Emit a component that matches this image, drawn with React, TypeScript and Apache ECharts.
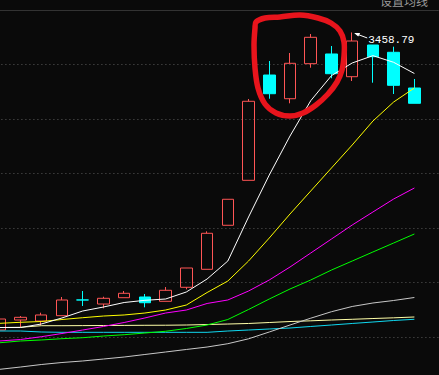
import React, { useEffect, useRef } from "react";
import * as echarts from "echarts";

// 22 slots: 21 candles + one empty slot on the right
const categories: string[] = [
  "D01", "D02", "D03", "D04", "D05", "D06", "D07", "D08", "D09", "D10", "D11",
  "D12", "D13", "D14", "D15", "D16", "D17", "D18", "D19", "D20", "D21", "D22",
];

// [open, close, low, high]
const candles: number[][] = [
  [2912.8, 2933.0, 2912.8, 2933.0],
  [2931.2, 2936.1, 2918.3, 2938.5],
  [2929.3, 2940.4, 2922.0, 2944.6],
  [2939.1, 2967.9, 2939.1, 2973.4],
  [2968.0, 2967.9, 2956.9, 2984.4],
  [2960.5, 2971.0, 2952.6, 2973.9],
  [2972.1, 2980.2, 2972.1, 2984.4],
  [2973.4, 2962.9, 2954.5, 2978.9],
  [2965.5, 2985.7, 2965.5, 2991.7],
  [2991.2, 3026.6, 2987.5, 3026.6],
  [3024.2, 3090.3, 3024.2, 3093.9],
  [3105.0, 3152.7, 3105.0, 3152.7],
  [3187.5, 3332.5, 3187.5, 3336.7],
  [3380.7, 3346.4, 3337.2, 3406.4],
  [3337.2, 3402.2, 3328.8, 3421.1],
  [3401.5, 3449.9, 3394.1, 3456.0],
  [3419.3, 3383.1, 3374.7, 3433.9],
  [3377.6, 3443.1, 3369.7, 3458.79],
  [3435.8, 3414.3, 3366.6, 3435.8],
  [3422.4, 3361.8, 3345.9, 3432.7],
  [3356.9, 3328.8, 3328.8, 3373.4],
];

const peakIndex = 17;
const peakValue = 3458.79;
const peakLabel = "3458.79";
const menuText = "设置均线";

const ma5: number[] = [
  2917.4, 2917.4, 2923.8, 2934.9, 2947.7, 2955.0, 2963.3, 2967.3, 2969.7, 2982.6, 3006.4,
  3039.4, 3120.2, 3197.2, 3268.8, 3333.6, 3379.6, 3402.8, 3416.2, 3404.0, 3383.5,
];
const ma10: number[] = [
  2925.1, 2927.0, 2928.4, 2932.1, 2935.4, 2938.5, 2940.4, 2944.0, 2949.5, 2958.7, 2981.6,
  3002.7, 3039.4, 3081.6, 3125.7, 3167.9, 3210.1, 3252.3, 3296.3, 3331.2, 3356.9,
];
const ma20: number[] = [
  2892.7, 2895.4, 2900.5, 2906.4, 2912.8, 2919.3, 2926.6, 2934.9, 2944.0, 2949.5, 2961.5,
  2967.9, 2984.4, 3004.6, 3028.4, 3054.1, 3079.8, 3105.5, 3129.4, 3153.2, 3173.4,
];
const ma30: number[] = [
  2889.5, 2892.7, 2894.5, 2896.9, 2898.7, 2901.8, 2904.2, 2907.3, 2910.5, 2915.6, 2922.0,
  2932.1, 2950.5, 2969.7, 2988.1, 3004.6, 3022.9, 3039.4, 3056.0, 3072.5, 3089.0,
];
const ma60: number[] = [
  2840.7, 2844.9, 2849.5, 2853.2, 2856.0, 2859.6, 2863.3, 2867.9, 2872.5, 2877.1, 2881.6,
  2887.7, 2896.7, 2909.2, 2922.0, 2934.5, 2946.4, 2956.0, 2962.4, 2967.0, 2972.5,
];
const ma120: number[] = [
  2917.4, 2917.8, 2920.7, 2920.7, 2920.9, 2921.1, 2921.3, 2921.5, 2921.6, 2922.0, 2922.9,
  2923.8, 2924.8, 2926.6, 2928.4, 2929.7, 2931.2, 2932.5, 2933.9, 2935.2, 2936.7,
];
const ma250: number[] = [
  2911.0, 2911.0, 2909.2, 2908.6, 2908.6, 2908.6, 2908.6, 2908.6, 2908.6, 2908.6, 2908.6,
  2911.0, 2912.8, 2914.7, 2916.5, 2919.3, 2922.0, 2924.8, 2927.5, 2930.3, 2932.5,
];

const yMin = 2800;
const yMax = 3500;
const yStep = 100;

const lineDefs: { name: string; data: number[]; color: string }[] = [
  { name: "MA250", data: ma250, color: "#10d8f0" },
  { name: "MA120", data: ma120, color: "#ffffa8" },
  { name: "MA60", data: ma60, color: "#c8c8c8" },
  { name: "MA30", data: ma30, color: "#00ff00" },
  { name: "MA20", data: ma20, color: "#ff00ff" },
  { name: "MA10", data: ma10, color: "#ffff00" },
  { name: "MA5", data: ma5, color: "#ffffff" },
];

// chart canvas is shifted left by OFF px so the first candle is half cut, like the reference
const OFF = 11;

const circlePoints: number[][] = [
  [256, 22], [265, 18], [280, 17], [300, 15], [318, 18], [331, 23], [340, 31],
  [344, 42], [344, 56], [342, 70], [337, 82], [328, 94], [316, 105], [303, 113],
  [290, 116], [276, 113], [265, 104], [258, 88], [255, 68], [254, 45], [255, 28],
];

export default function App() {
  const ref = useRef<HTMLDivElement>(null);
  useEffect(() => {
    document.body.style.margin = "0";
    document.body.style.background = "#0a0a0a";
    document.body.style.overflow = "hidden";
    document.documentElement.style.overflow = "hidden";
    if (!ref.current) return;
    const chart = echarts.init(ref.current, undefined, { renderer: "svg" });
    const option: any = {
      animation: false,
      backgroundColor: "#0a0a0a",
      grid: { left: 0.4, top: 10, width: 456.1, height: 381.5 },
      xAxis: {
        type: "category",
        data: categories,
        boundaryGap: true,
        show: false,
      },
      yAxis: {
        type: "value",
        min: yMin,
        max: yMax,
        interval: yStep,
        axisLine: { show: false },
        axisTick: { show: false },
        axisLabel: { show: false },
        splitLine: { show: true, lineStyle: { color: "#5a5a5a", type: [1, 3], width: 1 } },
      },
      series: [
        {
          type: "candlestick",
          data: candles,
          barWidth: 12,
          itemStyle: {
            color: "rgba(0,0,0,0)",
            color0: "#00ffff",
            borderColor: "#ff5555",
            borderColor0: "#00ffff",
            borderWidth: 1,
          },
        },
        ...lineDefs.map((l) => ({
          type: "line",
          name: l.name,
          data: l.data,
          symbol: "none",
          lineStyle: { color: l.color, width: 1 },
          itemStyle: { color: l.color },
          z: 3,
        })),
      ],
    };
    chart.setOption(option);
    const pt = chart.convertToPixel({ gridIndex: 0 }, [peakIndex, peakValue]) as number[];
    const px = pt[0];
    const py = pt[1];
    chart.setOption({
      graphic: [
        {
          type: "line",
          shape: { x1: OFF, y1: 10.5, x2: OFF + 437, y2: 10.5 },
          style: { stroke: "#333333", lineWidth: 1 },
          z: 10,
        },
        {
          type: "text",
          x: OFF + 380,
          y: 0,
          style: {
            text: menuText,
            fill: "#9a9a9a",
            font: '12px "Noto Sans CJK SC"',
            verticalAlign: "middle",
            align: "left",
          },
          z: 10,
        },
        {
          type: "polygon",
          x: OFF,
          shape: { points: circlePoints, smooth: 0.35 },
          style: { fill: "rgba(0,0,0,0)", stroke: "#e8141c", lineWidth: 5.5 },
          z: 20,
        },
        {
          type: "line",
          shape: { x1: px + 15, y1: py + 5.5, x2: px + 3, y2: py + 1 },
          style: { stroke: "#ffffff", lineWidth: 1 },
          z: 20,
        },
        {
          type: "polygon",
          shape: { points: [[px + 2, py + 0.5], [px + 8, py + 0.5], [px + 6, py + 4]] },
          style: { fill: "#ffffff" },
          z: 20,
        },
        {
          type: "text",
          x: px + 16,
          y: py + 7.5,
          style: {
            text: peakLabel,
            fill: "#ffffff",
            font: '11px "Liberation Mono"',
            verticalAlign: "middle",
            align: "left",
          },
          z: 20,
        },
      ],
    });
    return () => {
      chart.dispose();
    };
  }, []);
  return (
    <div style={{ position: "relative", width: 439, height: 375, overflow: "hidden" }}>
      <div
        ref={ref}
        style={{ position: "absolute", left: -OFF, top: 0, width: 468, height: 400 }}
      />
    </div>
  );
}
